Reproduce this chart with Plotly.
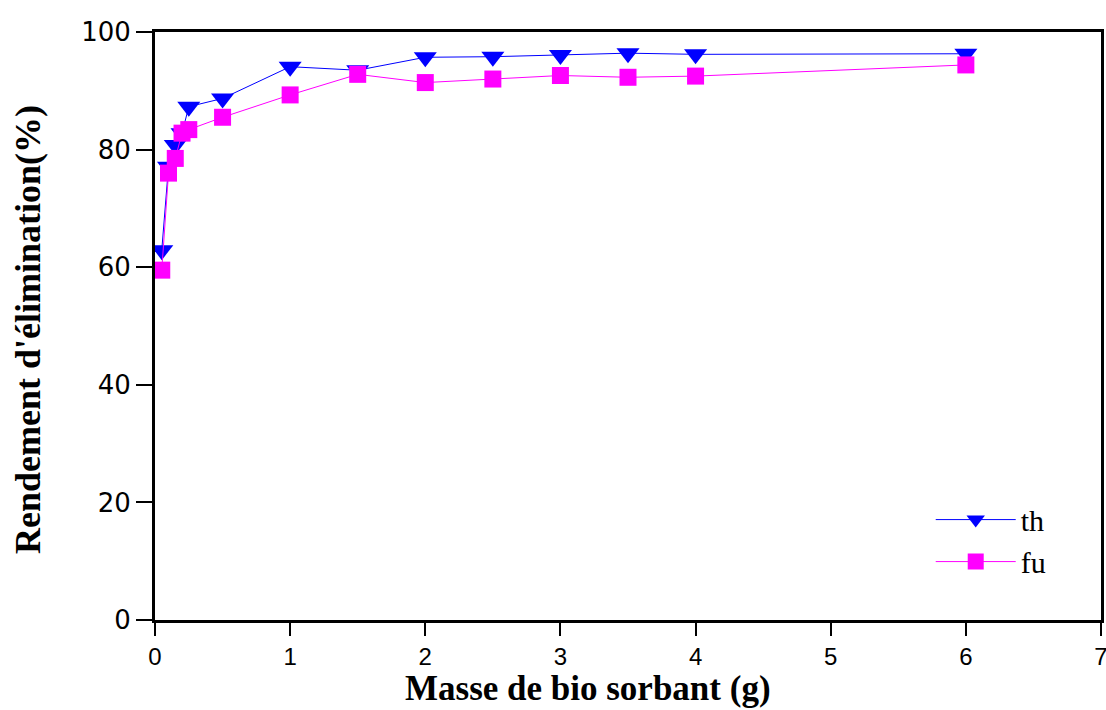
import plotly.graph_objects as go

masse = [0.05, 0.1, 0.15, 0.2, 0.25, 0.5, 1, 1.5, 2, 2.5, 3, 3.5, 4, 6]
th = [62.9, 77.1, 80.8, 82.8, 87.3, 88.7, 94.1, 93.5, 95.7, 95.8, 96.1, 96.4, 96.2, 96.3]
fu = [59.5, 76.0, 78.5, 82.8, 83.4, 85.5, 89.3, 92.8, 91.4, 92.0, 92.6, 92.3, 92.5, 94.4]

x_ticks = [0, 1, 2, 3, 4, 5, 6, 7]
y_ticks = [0, 20, 40, 60, 80, 100]

fig = go.Figure()
fig.add_trace(go.Scatter(
    x=masse, y=th, name="th", mode="lines+markers",
    line=dict(color="#0000FF", width=1),
    marker=dict(symbol="triangle-down", size=20, color="#0000FF"),
))
fig.add_trace(go.Scatter(
    x=masse, y=fu, name="fu", mode="lines+markers",
    line=dict(color="#FF00FF", width=1),
    marker=dict(symbol="square", size=17, color="#FF00FF"),
))

axis_common = dict(
    showgrid=False, zeroline=False, showline=True, linecolor="black",
    linewidth=3, mirror=True, ticks="outside", tickcolor="black",
    tickwidth=2, automargin=False,
)
fig.update_xaxes(
    range=[0, 7], tickvals=x_ticks, ticktext=[str(v) for v in x_ticks],
    ticklen=13, ticklabeloverflow="allow",
    tickfont=dict(family="Liberation Sans", size=24, color="black"),
    **axis_common,
)
fig.update_yaxes(
    range=[0, 100], tickvals=y_ticks, ticktext=[str(v) for v in y_ticks],
    ticklen=16, tickfont=dict(family="DejaVu Sans", size=26, color="black"),
    **axis_common,
)

fig.add_annotation(
    text="<b>Masse de bio sorbant (g)</b>", xref="paper", yref="paper",
    x=(588 - 155) / 946, y=-68 / 588, xanchor="center", yanchor="middle",
    showarrow=False, borderpad=0,
    font=dict(family="Liberation Serif", size=35, color="black"),
)
fig.add_annotation(
    text="<b>Rendement d'élimination(%)</b>", xref="paper", yref="paper",
    x=(28 - 155) / 946, y=(620 - 330) / 588, xanchor="center", yanchor="middle",
    textangle=-90, showarrow=False, borderpad=0,
    font=dict(family="Liberation Serif", size=36, color="black"),
)

fig.update_layout(
    width=1106, height=710,
    margin=dict(l=155, r=5, t=32, b=90, autoexpand=False),
    paper_bgcolor="white", plot_bgcolor="white",
    showlegend=True,
    legend=dict(
        x=0.82, y=0.215, xanchor="left", yanchor="top",
        bgcolor="rgba(0,0,0,0)", itemwidth=80,
        font=dict(family="Liberation Serif", size=30, color="black"),
        tracegroupgap=0,
    ),
)

fig.write_html("out.html")
